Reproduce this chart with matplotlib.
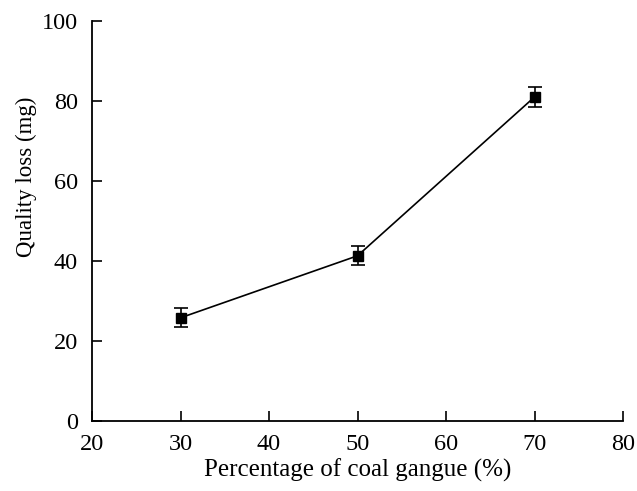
import matplotlib
matplotlib.use('Agg')
import matplotlib.pyplot as plt

plt.rcParams['font.family'] = ['Liberation Serif', 'DejaVu Serif']

coal_gangue = [30, 50, 70]
quality_loss = [25.8, 41.3, 81.0]
loss_err = [2.4, 2.4, 2.5]

fig = plt.figure(figsize=(6.37, 4.91), dpi=100)
ax = fig.add_axes([92/637, 1 - 421/491, 531/637, 400/491])

ax.errorbar(coal_gangue, quality_loss, yerr=loss_err, fmt='s-', color='black',
            markersize=6.5, linewidth=1.2, elinewidth=1.2, capsize=5, capthick=1.2)

ax.set_xlim(20, 80)
ax.set_ylim(0, 100)
ax.set_xticks(range(20, 81, 10))
ax.set_yticks(range(0, 101, 20))
ax.spines['top'].set_visible(False)
ax.spines['right'].set_visible(False)
for s in ('left', 'bottom'):
    ax.spines[s].set_linewidth(1.3)
ax.tick_params(direction='in', length=7, width=1.2, labelsize=17.5)
ax.tick_params(axis='x', pad=9)
ax.tick_params(axis='y', pad=10)

ax.set_xlabel('Percentage of coal gangue (%)', fontsize=18, labelpad=3)
ax.set_ylabel('Quality loss (mg)', fontsize=16.5)
ax.yaxis.set_label_coords(-0.104, 0.61)

fig.savefig('out.png', dpi=100)
